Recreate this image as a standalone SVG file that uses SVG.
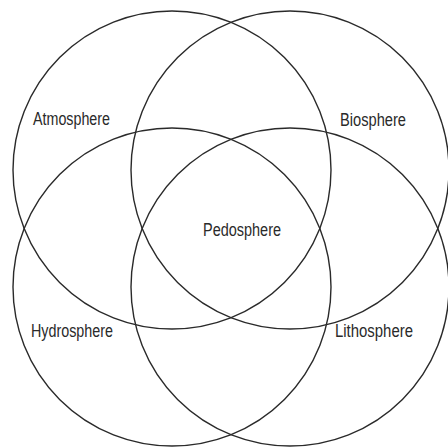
<svg xmlns="http://www.w3.org/2000/svg" width="448" height="447" viewBox="0 0 448 447">
<style>
.c{fill:none;stroke:#2a2a2a;stroke-width:1.4}
.t{font-family:"Liberation Sans",Arial,sans-serif;font-size:17.5px;fill:#2a2a2a}
</style>
<rect width="448" height="447" fill="#fff"/>
<g id="atmosphere"><circle class="c" cx="172" cy="170" r="159"/><text class="t" x="33" y="125" textLength="77" lengthAdjust="spacingAndGlyphs">Atmosphere</text></g>
<g id="biosphere"><circle class="c" cx="290" cy="170" r="159"/><text class="t" x="340" y="126" textLength="66" lengthAdjust="spacingAndGlyphs">Biosphere</text></g>
<g id="hydrosphere"><circle class="c" cx="172" cy="287" r="159"/><text class="t" x="31" y="337" textLength="82" lengthAdjust="spacingAndGlyphs">Hydrosphere</text></g>
<g id="lithosphere"><circle class="c" cx="290" cy="287" r="159"/><text class="t" x="335" y="337" textLength="78" lengthAdjust="spacingAndGlyphs">Lithosphere</text></g>
<g id="pedosphere"><text class="t" x="203" y="236" textLength="78" lengthAdjust="spacingAndGlyphs">Pedosphere</text></g>
<g id="connectors"/>
</svg>
